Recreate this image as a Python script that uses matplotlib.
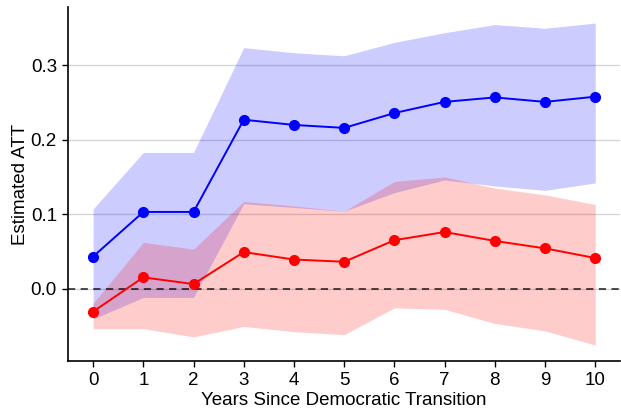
import numpy as np
import matplotlib
matplotlib.use("Agg")
import matplotlib.pyplot as plt

plt.rcParams['font.family'] = ['Liberation Sans', 'DejaVu Sans']

years = np.arange(0, 11)

# blue series and its interval
blue_att = [0.043, 0.103, 0.103, 0.227, 0.220, 0.216, 0.236, 0.251, 0.257, 0.251, 0.258]
blue_lo = [-0.041, -0.012, -0.012, 0.114, 0.109, 0.104, 0.129, 0.146, 0.138, 0.132, 0.142]
blue_hi = [0.107, 0.183, 0.183, 0.324, 0.317, 0.313, 0.331, 0.344, 0.355, 0.350, 0.357]

# red series and its interval
red_att = [-0.031, 0.015, 0.006, 0.049, 0.039, 0.036, 0.065, 0.076, 0.064, 0.054, 0.041]
red_lo = [-0.054, -0.054, -0.065, -0.051, -0.058, -0.062, -0.026, -0.028, -0.047, -0.057, -0.076]
red_hi = [-0.020, 0.062, 0.053, 0.117, 0.111, 0.104, 0.144, 0.150, 0.135, 0.126, 0.113]

fig, ax = plt.subplots(figsize=(6.21, 4.09), dpi=100)
fig.subplots_adjust(left=0.1095, right=0.999, bottom=0.117, top=0.983)

ax.grid(axis='y', color='#bbbbbb', alpha=0.6, linewidth=1)
ax.set_axisbelow(True)

ax.fill_between(years, blue_lo, blue_hi, color='blue', alpha=0.2, linewidth=0)
ax.fill_between(years, red_lo, red_hi, color='red', alpha=0.2, linewidth=0)

ax.axhline(0, color='black', linestyle='--', linewidth=1.3, alpha=0.75, dashes=(4, 3))

ax.plot(years, blue_att, color='blue', marker='o', markersize=7, linewidth=1.4)
ax.plot(years, red_att, color='red', marker='o', markersize=7, linewidth=1.4)

ax.set_xticks(years)
ax.set_yticks([0.0, 0.1, 0.2, 0.3])
ax.tick_params(labelsize=13.5, length=4, width=1, pad=4)
ax.set_xlabel('Years Since Democratic Transition', fontsize=13.5, labelpad=2)
ax.set_ylabel('Estimated ATT', fontsize=13.5, labelpad=1)

ax.spines['top'].set_visible(False)
ax.spines['right'].set_visible(False)
ax.spines['left'].set_linewidth(1.2)
ax.spines['bottom'].set_linewidth(1.2)

fig.savefig('out.png', dpi=100)
